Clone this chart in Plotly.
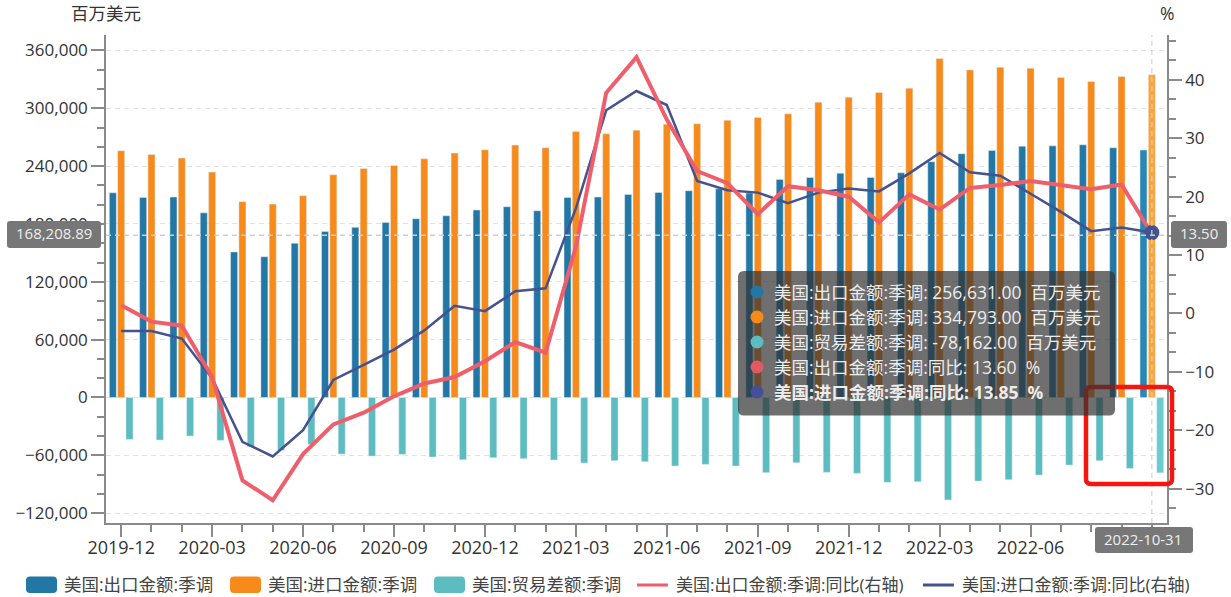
import plotly.graph_objects as go
from plotly.subplots import make_subplots

# ==========================
# DATA
# ==========================
months = [
    "2019-12",
    "2020-01", "2020-02", "2020-03", "2020-04", "2020-05", "2020-06",
    "2020-07", "2020-08", "2020-09", "2020-10", "2020-11", "2020-12",
    "2021-01", "2021-02", "2021-03", "2021-04", "2021-05", "2021-06",
    "2021-07", "2021-08", "2021-09", "2021-10", "2021-11", "2021-12",
    "2022-01", "2022-02", "2022-03", "2022-04", "2022-05", "2022-06",
    "2022-07", "2022-08", "2022-09", "2022-10",
]
exports = [
    212300, 207500, 207900, 191500, 151000, 146000, 160000,
    172300, 176500, 181600, 185400, 188500, 194400,
    197900, 193700, 207500, 207900, 210600, 212700,
    214500, 216500, 212000, 226200, 228300, 232700,
    228300, 233100, 244500, 252800, 256200, 260700,
    261000, 262100, 259000, 256631,
]
imports = [
    255900, 252100, 248300, 233800, 203100, 200600, 209300,
    231000, 237500, 240700, 247600, 253500, 256900,
    261800, 259000, 275900, 273500, 277300, 283500,
    283900, 287700, 290400, 294200, 306300, 311500,
    316300, 320800, 351500, 339800, 342600, 341500,
    331800, 327700, 332900, 334793,
]
balance = [
    -43500, -44200, -40000, -44500, -51100, -55000, -48700,
    -58700, -60800, -59000, -61800, -64600, -62500,
    -63500, -64900, -68000, -65600, -66600, -71100,
    -69400, -71100, -78000, -67700, -77700, -78700,
    -88000, -87400, -106300, -86700, -85300, -80500,
    -70100, -65600, -73600, -78162,
]
yoy_exports = [
    1.4, -1.4, -2.1, -10.9, -28.6, -32.0, -24.1,
    -19.0, -17.0, -14.2, -12.0, -10.9, -8.2,
    -4.9, -6.7, 11.4, 37.8, 43.9, 33.2,
    24.4, 22.3, 17.0, 21.8, 21.1, 20.0,
    15.6, 20.4, 17.8, 21.5, 22.0, 22.7,
    22.0, 21.3, 22.1, 13.60,
]
yoy_imports = [
    -3.0, -3.0, -4.3, -11.1, -22.0, -24.5, -20.0,
    -11.4, -8.8, -6.2, -2.9, 1.3, 0.4,
    3.8, 4.3, 18.0, 34.8, 38.1, 35.7,
    22.7, 21.1, 20.7, 18.9, 20.7, 21.4,
    20.9, 24.0, 27.5, 24.2, 23.6, 20.5,
    17.4, 14.1, 14.7, 13.85,
]

left_ticks = [-120000, -60000, 0, 60000, 120000, 180000, 240000, 300000, 360000]
right_ticks = [-30, -20, -10, 0, 10, 20, 30, 40]

# hover readout shown in the reference
pointer_left = 168208.89
pointer_right = 13.50
pointer_date = "2022-10-31"

BLUE = "#2277a5"
ORANGE = "#f68a1a"
TEAL = "#5cbcbf"
RED = "#ef5f6b"
NAVY = "#44528f"
FONT = "Open Sans, Noto Sans CJK SC, sans-serif"
TEXT = "#333333"
AXIS = "#8a8a8a"
FSIZE = 17
LABEL_SIZE = 17.5
POINTER_SIZE = 15

W, H = 1231, 597
L, R, T, B = 106, 1167, 35, 523


def px(x):
    return (x - L) / (R - L)


def py(y):
    return (B - y) / (B - T)


def rounded(x0, y0, x1, y1, r):
    a, b, c, d = px(x0), py(y0), px(x1), py(y1)
    rx, ry = r / (R - L), r / (B - T)
    return (
        f"M{a + rx},{b} L{c - rx},{b} Q{c},{b} {c},{b - ry} "
        f"L{c},{d + ry} Q{c},{d} {c - rx},{d} "
        f"L{a + rx},{d} Q{a},{d} {a},{d + ry} "
        f"L{a},{b - ry} Q{a},{b} {a + rx},{b} Z"
    )


def box(x0, y0, x1, y1, r, fill, line=None, width=0):
    return dict(
        type="path", xref="paper", yref="paper", layer="above",
        path=rounded(x0, y0, x1, y1, r), fillcolor=fill,
        line=dict(color=line or "rgba(0,0,0,0)", width=width),
    )


def label(x, y, text, color=TEXT, anchor="left", size=LABEL_SIZE):
    return dict(
        xref="paper", yref="paper", x=px(x), y=py(y), text=text,
        showarrow=False, xanchor=anchor, yanchor="middle", borderpad=0,
        font=dict(family=FONT, size=size, color=color),
    )


def dot(x, y, r, color):
    return dict(
        type="circle", xref="paper", yref="paper", layer="above",
        x0=px(x - r), x1=px(x + r), y0=py(y + r), y1=py(y - r),
        fillcolor=color, line=dict(width=0),
    )


# ==========================
# TRACES
# ==========================
fig = make_subplots(specs=[[{"secondary_y": True}]])


def bar_colors(base, hover):
    return [base] * (len(months) - 1) + [hover]


fig.add_trace(go.Bar(x=months, y=exports, name="美国:出口金额:季调",
                     marker=dict(color=bar_colors(BLUE, "#2a86b6"))), secondary_y=False)
fig.add_trace(go.Bar(x=months, y=imports, name="美国:进口金额:季调",
                     marker=dict(color=bar_colors(ORANGE, "#f9a53c"))), secondary_y=False)
fig.add_trace(go.Bar(x=months, y=balance, name="美国:贸易差额:季调",
                     marker=dict(color=bar_colors(TEAL, "#6accce"))), secondary_y=False)

fig.add_trace(go.Scatter(x=months, y=yoy_imports, name="美国:进口金额:季调:同比(右轴)",
                         mode="lines", line=dict(color=NAVY, width=2.5)), secondary_y=True)
fig.add_trace(go.Scatter(x=months, y=yoy_exports, name="美国:出口金额:季调:同比(右轴)",
                         mode="lines", line=dict(color=RED, width=4)), secondary_y=True)
# highlighted point under the crosshair
fig.add_trace(go.Scatter(x=months[-1:], y=yoy_imports[-1:], mode="markers", showlegend=False,
                         marker=dict(color=NAVY, size=15)), secondary_y=True)

# ==========================
# OVERLAYS: crosshair, pointer labels, tooltip, legend
# ==========================
shapes = [
    dict(type="line", xref="paper", yref="y", x0=0, x1=1, y0=pointer_left, y1=pointer_left,
         layer="above", line=dict(color="#cfcfcf", width=1.5, dash="5px,4px")),
    dict(type="line", xref="x", yref="paper", x0=months[-1], x1=months[-1], y0=0, y1=1,
         layer="above", line=dict(color="#d5d5d5", width=1.2, dash="5px,4px")),
    box(7, 221, 101, 248, 3, "#777777"),
    box(1171, 221, 1227, 248, 3, "#777777"),
    box(1095, 527, 1193, 553, 3, "#777777"),
    box(1086, 387, 1172, 484, 5, "rgba(0,0,0,0)", "#f5170f", 4.5),
    box(738, 271, 1115, 415.5, 6, "rgba(50,50,50,0.7)"),
]

annotations = [
    label(106, 13, "百万美元", anchor="center"),
    label(1167, 13, "%", anchor="center"),
    label(54, 233, f"{pointer_left:,.2f}", "#eeeeee", "center", POINTER_SIZE),
    label(1199, 233, f"{pointer_right:.2f}", "#eeeeee", "center", POINTER_SIZE),
    label(1143, 539, pointer_date, "#eeeeee", "center", POINTER_SIZE),
]

# tooltip rows
tip_rows = [
    (BLUE, f"美国:出口金额:季调: {exports[-1]:,.2f}  百万美元"),
    (ORANGE, f"美国:进口金额:季调: {imports[-1]:,.2f}  百万美元"),
    (TEAL, f"美国:贸易差额:季调: {balance[-1]:,.2f}  百万美元"),
    ("#e05a63", f"美国:出口金额:季调:同比: {yoy_exports[-1]:.2f}  %"),
    ("#45509a", f"<b>美国:进口金额:季调:同比: {yoy_imports[-1]:.2f}  %</b>"),
]
for i, (color, text) in enumerate(tip_rows):
    y = 292 + i * 25
    shapes.append(dot(757, y, 6.5, color))
    annotations.append(label(773, y, text, "#ececec"))

# legend, drawn by hand for the wide swatches
for x0, color, text in [
    (26, BLUE, "美国:出口金额:季调"),
    (230, ORANGE, "美国:进口金额:季调"),
    (434, TEAL, "美国:贸易差额:季调"),
]:
    shapes.append(box(x0, 576.5, x0 + 31, 593, 4, color))
    annotations.append(label(x0 + 37, 584, text, "#444444"))

for x0, color, text in [
    (637, RED, "美国:出口金额:季调:同比(右轴)"),
    (923, NAVY, "美国:进口金额:季调:同比(右轴)"),
]:
    shapes.append(dict(type="line", xref="paper", yref="paper", layer="above",
                       x0=px(x0), x1=px(x0 + 31), y0=py(585), y1=py(585),
                       line=dict(color=color, width=3)))
    annotations.append(label(x0 + 38, 584, text, "#444444", size=FSIZE))

# ==========================
# LAYOUT
# ==========================
fig.update_layout(
    width=W, height=H,
    margin=dict(l=L, r=W - R, t=T, b=H - B, pad=0),
    paper_bgcolor="white", plot_bgcolor="white",
    font=dict(family=FONT, size=FSIZE, color=TEXT),
    barmode="group", bargap=0.175, bargroupgap=0.155,
    showlegend=False, hovermode="x",
    shapes=shapes, annotations=annotations,
)

x_ticks = months[::3]
x_text = [m if m != "2022-09" else "" for m in x_ticks]
fig.update_xaxes(
    domain=[0, 1], range=[-0.5, len(months) - 0.5],
    type="category", categoryorder="array", categoryarray=months,
    tickmode="array", tickvals=x_ticks, ticktext=x_text, tickangle=0,
    ticks="outside", ticklen=12, tickcolor=AXIS, tickwidth=1.5, ticklabelstandoff=-4,
    minor=dict(ticks="outside", ticklen=7, tickcolor=AXIS, tickwidth=1.5,
               tickmode="array", tickvals=months),
    showline=True, linecolor=AXIS, linewidth=1.5, showgrid=False, zeroline=False,
    tickfont=dict(size=18, color=TEXT),
)
fig.update_yaxes(
    range=[-130200, 376000], tickmode="array", tickvals=left_ticks, tickformat=",",
    ticks="outside", ticklen=13, tickcolor=AXIS, tickwidth=1.5,
    minor=dict(ticks="outside", ticklen=7, tickcolor=AXIS, tickwidth=1.5, dtick=20000, tick0=0),
    showline=True, linecolor=AXIS, linewidth=1.5,
    showgrid=True, gridcolor="#e2e2e2", griddash="5px,4px", gridwidth=1, zeroline=False,
    tickfont=dict(size=FSIZE, color=TEXT),
    secondary_y=False,
)
fig.update_yaxes(
    range=[-35.9, 47.7], tickmode="array", tickvals=right_ticks,
    ticks="outside", ticklen=13, tickcolor=AXIS, tickwidth=1.5,
    minor=dict(ticks="outside", ticklen=7, tickcolor=AXIS, tickwidth=1.5, dtick=10 / 3, tick0=0),
    showline=True, linecolor=AXIS, linewidth=1.5, showgrid=False, zeroline=False,
    tickfont=dict(size=FSIZE, color=TEXT),
    secondary_y=True,
)

# the page's default 8px body margin would push the figure off the window
fig.write_html("out.html", config={"displayModeBar": False},
               post_script="document.body.style.margin='0';")
